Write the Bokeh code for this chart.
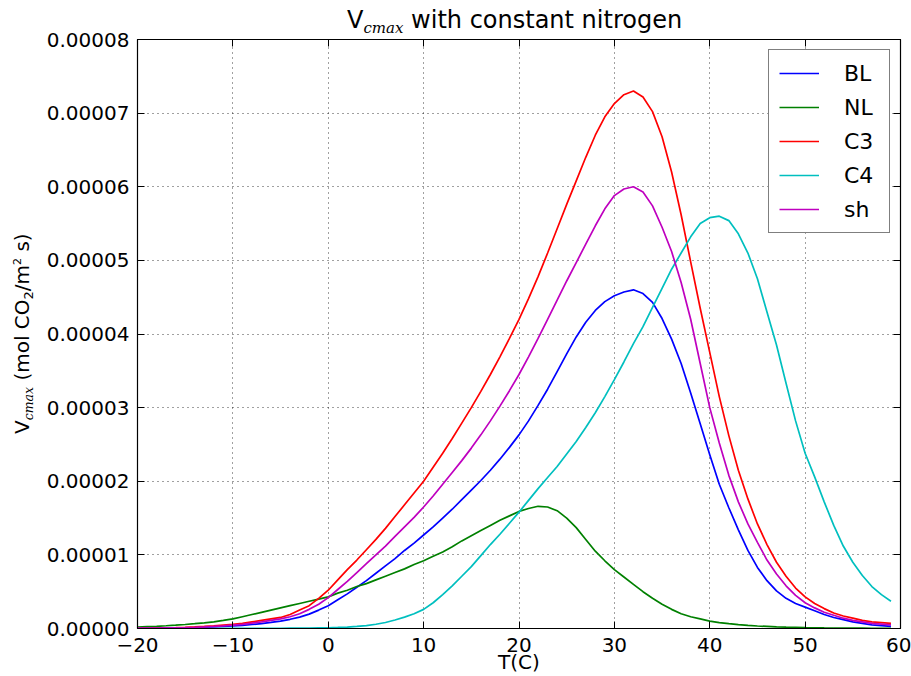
from bokeh.plotting import figure
from bokeh.layouts import row
from bokeh.models import (Range1d, FixedTicker, PrintfTickFormatter, LinearAxis, Div,
                          Legend, LegendItem, Grid, CustomJSTickFormatter)
from bokeh.embed import file_html
from bokeh.resources import INLINE

# ---------------- data (values in units of 1e-5 mol CO2 / m2 s) ----------------
T = list(range(-20, 60))

BL = [0.003, 0.004, 0.005, 0.006, 0.008, 0.010, 0.013, 0.017, 0.021, 0.027,
      0.034, 0.043, 0.054, 0.067, 0.083, 0.10, 0.125, 0.155, 0.195, 0.25,
      0.31, 0.39, 0.47, 0.56, 0.65, 0.75, 0.85, 0.95, 1.06, 1.16,
      1.27, 1.38, 1.50, 1.62, 1.75, 1.88, 2.01, 2.15, 2.30, 2.46,
      2.63, 2.82, 3.03, 3.25, 3.49, 3.73, 3.96, 4.16, 4.32, 4.44,
      4.52, 4.57, 4.60, 4.55, 4.43, 4.21, 3.93, 3.60, 3.20, 2.78,
      2.36, 1.96, 1.64, 1.34, 1.06, 0.83, 0.65, 0.51, 0.41, 0.34,
      0.29, 0.24, 0.19, 0.15, 0.12, 0.09, 0.07, 0.05, 0.04, 0.03]

NL = [0.020, 0.025, 0.030, 0.037, 0.045, 0.054, 0.065, 0.077, 0.091, 0.11,
      0.13, 0.16, 0.19, 0.22, 0.25, 0.28, 0.31, 0.34, 0.37, 0.40,
      0.43, 0.48, 0.52, 0.57, 0.61, 0.66, 0.71, 0.76, 0.81, 0.87,
      0.92, 0.98, 1.04, 1.11, 1.19, 1.26, 1.33, 1.40, 1.47, 1.53,
      1.59, 1.63, 1.66, 1.65, 1.60, 1.50, 1.37, 1.21, 1.05, 0.92,
      0.80, 0.70, 0.60, 0.50, 0.41, 0.33, 0.26, 0.20, 0.16, 0.13,
      0.10, 0.08, 0.065, 0.052, 0.042, 0.034, 0.028, 0.022, 0.018, 0.015,
      0.012, 0.010, 0.008, 0.007, 0.006, 0.005, 0.004, 0.003, 0.003, 0.002]

C3 = [0.005, 0.006, 0.008, 0.010, 0.013, 0.017, 0.022, 0.028, 0.035, 0.045,
      0.055, 0.07, 0.09, 0.11, 0.13, 0.15, 0.19, 0.25, 0.31, 0.41,
      0.52, 0.66, 0.80, 0.93, 1.07, 1.21, 1.36, 1.52, 1.68, 1.84,
      2.00, 2.19, 2.38, 2.58, 2.79, 3.00, 3.22, 3.45, 3.69, 3.94,
      4.20, 4.48, 4.78, 5.10, 5.43, 5.76, 6.08, 6.40, 6.70, 6.95,
      7.13, 7.25, 7.30, 7.22, 7.02, 6.68, 6.20, 5.62, 4.98, 4.35,
      3.75, 3.15, 2.62, 2.15, 1.76, 1.42, 1.14, 0.90, 0.71, 0.55,
      0.43, 0.34, 0.27, 0.21, 0.17, 0.14, 0.11, 0.09, 0.08, 0.07]

C4 = [0.0, 0.0, 0.0, 0.0, 0.0, 0.0, 0.0, 0.0, 0.0, 0.001,
      0.001, 0.001, 0.001, 0.002, 0.002, 0.003, 0.004, 0.005, 0.006, 0.008,
      0.010, 0.014, 0.020, 0.028, 0.040, 0.058, 0.082, 0.115, 0.155, 0.20,
      0.26, 0.35, 0.46, 0.58, 0.71, 0.84, 0.99, 1.14, 1.28, 1.43,
      1.58, 1.74, 1.90, 2.05, 2.20, 2.37, 2.54, 2.73, 2.93, 3.15,
      3.38, 3.62, 3.87, 4.10, 4.36, 4.62, 4.88, 5.10, 5.32, 5.50,
      5.58, 5.60, 5.54, 5.36, 5.10, 4.75, 4.30, 3.85, 3.33, 2.82,
      2.38, 2.06, 1.72, 1.40, 1.12, 0.90, 0.72, 0.57, 0.46, 0.37]

SH = [0.004, 0.005, 0.006, 0.008, 0.010, 0.013, 0.017, 0.022, 0.028, 0.036,
      0.045, 0.057, 0.072, 0.09, 0.11, 0.13, 0.16, 0.20, 0.26, 0.33,
      0.42, 0.53, 0.64, 0.76, 0.88, 1.00, 1.12, 1.25, 1.38, 1.51,
      1.65, 1.80, 1.96, 2.12, 2.28, 2.45, 2.63, 2.82, 3.02, 3.23,
      3.45, 3.69, 3.94, 4.20, 4.46, 4.72, 4.97, 5.22, 5.47, 5.70,
      5.88, 5.97, 6.00, 5.93, 5.74, 5.45, 5.12, 4.70, 4.20, 3.60,
      3.00, 2.52, 2.08, 1.72, 1.42, 1.17, 0.93, 0.74, 0.58, 0.45,
      0.35, 0.28, 0.22, 0.18, 0.14, 0.11, 0.09, 0.07, 0.06, 0.05]

SERIES_NAMES = ["BL", "NL", "C3", "C4", "sh"]
SERIES_VALUES = [BL, NL, C3, C4, SH]
SERIES_COLORS = ["#0000ff", "#008000", "#ff0000", "#00bfbf", "#bf00bf"]
UNIT = 1e-5

X_TICKS = [-20, -10, 0, 10, 20, 30, 40, 50, 60]
X_TICK_LABELS = ["\u221220", "\u221210", "0", "10", "20", "30", "40", "50", "60"]
Y_TICKS = [0.0, 0.00001, 0.00002, 0.00003, 0.00004, 0.00005, 0.00006, 0.00007, 0.00008]

TITLE_MAIN = "V"
TITLE_SUB = "cmax"
TITLE_REST = " with constant nitrogen"
X_LABEL = "T(C)"

FONT = "DejaVu Sans"

p = figure(width=871, height=676, output_backend="svg", toolbar_location=None,
           x_range=Range1d(-20, 60), y_range=Range1d(0, 8e-5),
           x_axis_type=None, y_axis_type=None,
           min_border_left=97, min_border_right=11, min_border_top=39, min_border_bottom=48)
p.background_fill_color = "white"
p.border_fill_color = "white"
p.border_fill_alpha = 0.0
p.outline_line_color = "black"
p.outline_line_width = 1.2

xt = FixedTicker(ticks=X_TICKS)
yt = FixedTicker(ticks=Y_TICKS)


def style(ax):
    ax.major_tick_in = 7
    ax.major_tick_out = 0
    ax.minor_tick_line_color = None
    ax.major_tick_line_color = "black"
    ax.axis_line_color = "black"
    ax.major_label_text_font = FONT
    ax.major_label_text_font_size = "20px"
    ax.major_label_text_color = "black"


xaxis = LinearAxis(ticker=xt, major_label_overrides=dict(zip(X_TICKS, X_TICK_LABELS)))
style(xaxis)
xaxis.major_label_standoff = 9
xaxis.axis_label = X_LABEL
xaxis.axis_label_text_font = FONT
xaxis.axis_label_text_font_size = "20px"
xaxis.axis_label_text_font_style = "normal"
xaxis.axis_label_text_color = "black"
xaxis.axis_label_standoff = -5
p.add_layout(xaxis, "below")

yaxis = LinearAxis(ticker=yt, formatter=PrintfTickFormatter(format="%.5f"))
style(yaxis)
yaxis.major_label_standoff = 8
p.add_layout(yaxis, "left")

for side, tk in (("above", xt), ("right", yt)):
    ax = LinearAxis(ticker=tk, formatter=CustomJSTickFormatter(code="return ''"))
    style(ax)
    ax.major_label_text_font_size = "1px"
    ax.major_label_standoff = 0
    p.add_layout(ax, side)

for dim, tk in ((0, xt), (1, yt)):
    g = Grid(dimension=dim, ticker=tk, grid_line_color="black", grid_line_alpha=0.75,
             grid_line_width=1, grid_line_dash="1 4")
    p.add_layout(g)

items = []
for name, vals, col in zip(SERIES_NAMES, SERIES_VALUES, SERIES_COLORS):
    r = p.line(T, [v * UNIT for v in vals], line_color=col, line_width=1.7)
    items.append(LegendItem(label=name, renderers=[r]))

legend = Legend(items=items, location=(631, 395), border_line_color="black",
                border_line_width=1.2, background_fill_color="white", background_fill_alpha=1,
                label_text_font=FONT, label_text_font_size="22px", label_text_color="black",
                padding=10, spacing=8, glyph_width=40, glyph_height=26,
                label_standoff=25, label_width=35, label_height=26, margin=0)
p.add_layout(legend)

# ---- title (V with italic subscript cmax), placed above the plot frame ----
title_html = (
    '<div style="position:absolute;left:347px;top:6px;white-space:nowrap;'
    "font-family:'DejaVu Sans';font-size:24px;line-height:28px;color:#000;\">"
    + TITLE_MAIN
    + "<span style=\"font-family:'DejaVu Serif';font-style:italic;font-size:15px;"
    + 'position:relative;top:5px;">' + TITLE_SUB + "</span>"
    + TITLE_REST + "</div>"
)

# ---- rotated y label: V_cmax (mol CO2/m2 s) ----
ylab_html = (
    '<div style="position:absolute;left:10px;top:434px;transform:rotate(-90deg);'
    "transform-origin:0 0;white-space:nowrap;font-family:'DejaVu Sans';font-size:20px;"
    'line-height:24px;color:#000;">'
    + TITLE_MAIN
    + "<span style=\"font-family:'DejaVu Serif';font-style:italic;font-size:12.5px;"
    + 'position:relative;top:4px;">' + TITLE_SUB + "</span>"
    + ' (mol CO<span style="font-size:13px;position:relative;top:4px;">2</span>'
    + '/m<span style="font-size:11px;position:relative;top:-8px;">2</span> s)</div>'
)

side_div = Div(text=title_html + ylab_html, width=40, height=676, margin=0,
               styles={"overflow": "visible"})

layout = row(side_div, p, spacing=0)

open("out.html", "w").write(file_html(layout, INLINE))
